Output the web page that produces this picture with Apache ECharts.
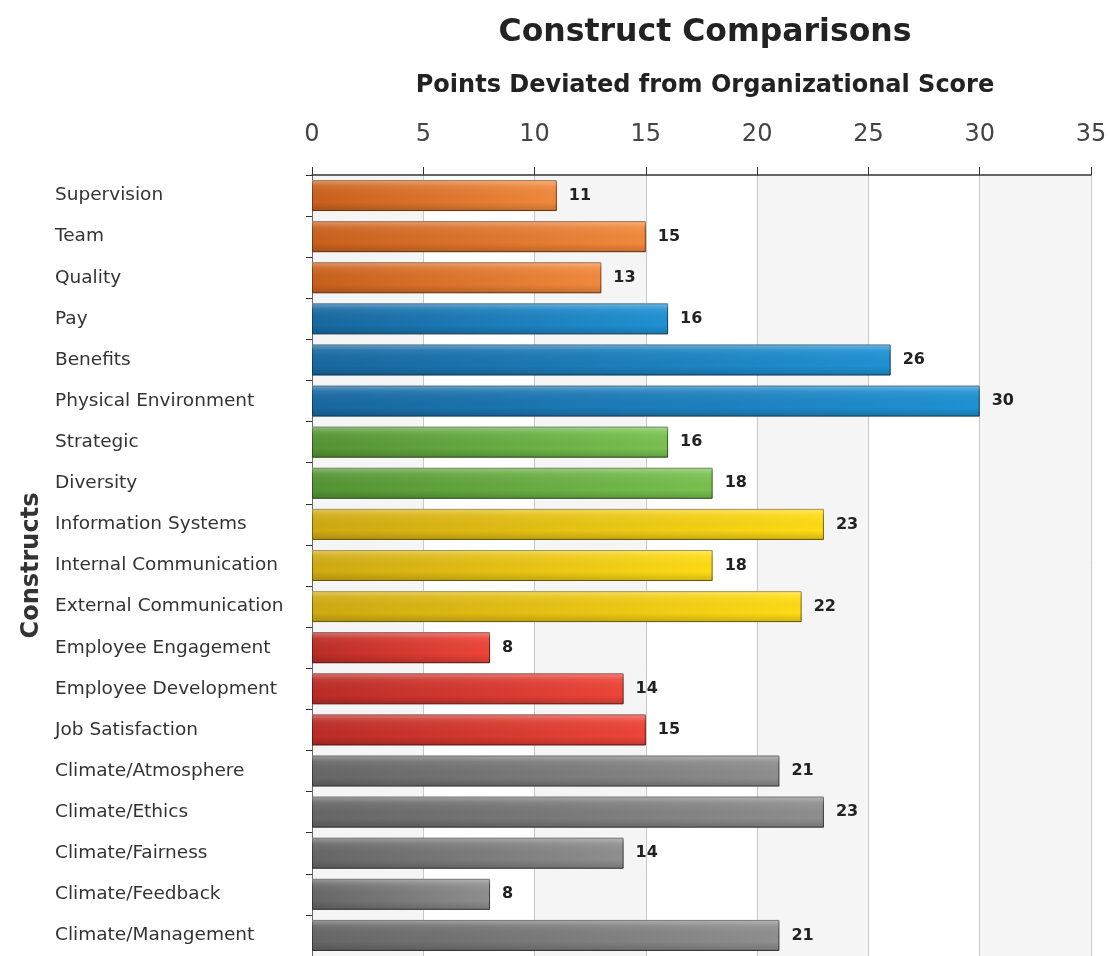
<!DOCTYPE html>
<html>
<head>
<meta charset="utf-8">
<script src="https://cdn.jsdelivr.net/npm/echarts@6/dist/echarts.min.js"></script>
<style>
html, body { margin: 0; padding: 0; background: #fff; }
#chart { width: 1110px; height: 956px; }
</style>
</head>
<body>
<div id="chart"></div>
<script>
// categories, top to bottom
var constructs = ['Supervision', 'Team', 'Quality', 'Pay', 'Benefits', 'Physical Environment',
    'Strategic', 'Diversity', 'Information Systems', 'Internal Communication', 'External Communication',
    'Employee Engagement', 'Employee Development', 'Job Satisfaction', 'Climate/Atmosphere',
    'Climate/Ethics', 'Climate/Fairness', 'Climate/Feedback', 'Climate/Management'];
var points = [11, 15, 13, 16, 26, 30, 16, 18, 23, 18, 22, 8, 14, 15, 21, 23, 14, 8, 21];
// colour group of each construct
var groups = ['orange', 'orange', 'orange', 'blue', 'blue', 'blue', 'green', 'green',
    'yellow', 'yellow', 'yellow', 'red', 'red', 'red', 'gray', 'gray', 'gray', 'gray', 'gray'];
var xTicks = [0, 5, 10, 15, 20, 25, 30, 35];

var palette = {
    orange: ['#c9601c', '#f28a3c', '#7a3a10'],
    blue:   ['#1868a0', '#1f92d4', '#0e3f62'],
    green:  ['#549433', '#79c250', '#305a1c'],
    yellow: ['#cfaa12', '#ffdc14', '#7a6408'],
    red:    ['#bb2c26', '#ef4538', '#6e1612'],
    gray:   ['#666666', '#8f8f8f', '#3a3a3a']
};

function barColor(g) {
    var c = palette[g];
    return new echarts.graphic.LinearGradient(0, 0, 1, 0, [
        { offset: 0, color: c[0] },
        { offset: 1, color: c[1] }
    ]);
}

var barData = points.map(function (v, i) {
    var c = palette[groups[i]];
    return {
        value: v,
        itemStyle: { color: barColor(groups[i]), borderColor: c[2], borderWidth: 1 }
    };
});

var font = 'DejaVu Sans';
var chart = echarts.init(document.getElementById('chart'), null, { renderer: 'canvas' });

chart.setOption({
    animation: false,
    textStyle: { fontFamily: font },
    title: [{
        text: 'Construct Comparisons',
        left: 700, top: 12, textAlign: 'center',
        textStyle: { fontFamily: font, fontSize: 31.5, fontWeight: 'bold', color: '#222' }
    }, {
        text: 'Points Deviated from Organizational Score',
        left: 700, top: 69, textAlign: 'center',
        textStyle: { fontFamily: font, fontSize: 24, fontWeight: 'bold', color: '#222' }
    }],
    grid: { left: 312, right: 19, top: 175, bottom: -5, containLabel: false },
    xAxis: {
        type: 'value',
        position: 'top',
        min: xTicks[0],
        max: xTicks[xTicks.length - 1],
        interval: 5,
        axisLine: { show: true, lineStyle: { color: '#333', width: 1.5 } },
        axisTick: { show: true, inside: false, length: 8, lineStyle: { color: '#333' } },
        axisLabel: { fontSize: 24, color: '#444', margin: 28, fontFamily: font },
        splitLine: { show: true, lineStyle: { color: '#c8c8c8' } },
        splitArea: { show: true, areaStyle: { color: ['#f5f5f5', '#ffffff'] } }
    },
    yAxis: {
        type: 'category',
        inverse: true,
        data: constructs,
        name: 'Constructs',
        nameLocation: 'middle',
        nameRotate: 90,
        nameGap: 262,
        nameTextStyle: { fontSize: 24, fontWeight: 'bold', color: '#333', fontFamily: font },
        axisLine: { show: true, lineStyle: { color: '#666' } },
        axisTick: { show: true, length: 6, lineStyle: { color: '#333' } },
        axisLabel: {
            fontSize: 18.5, color: '#333', fontFamily: font,
            align: 'left', margin: 257
        },
        splitLine: { show: true, lineStyle: { color: '#cccccc' } }
    },
    series: [{
        type: 'bar',
        data: barData,
        barWidth: 31,
        label: {
            show: true,
            position: 'right',
            distance: 12,
            fontSize: 16,
            fontWeight: 'bold',
            color: '#222',
            fontFamily: font
        }
    }, {
        // glossy highlight over the same bars
        type: 'bar',
        data: points,
        barWidth: 31,
        barGap: '-100%',
        silent: true,
        z: 3,
        itemStyle: {
            color: new echarts.graphic.LinearGradient(0, 0, 0, 1, [
                { offset: 0, color: 'rgba(255,255,255,0.35)' },
                { offset: 0.2, color: 'rgba(255,255,255,0.08)' },
                { offset: 0.7, color: 'rgba(0,0,0,0)' },
                { offset: 1, color: 'rgba(0,0,0,0.18)' }
            ])
        }
    }]
});
</script>
</body>
</html>
